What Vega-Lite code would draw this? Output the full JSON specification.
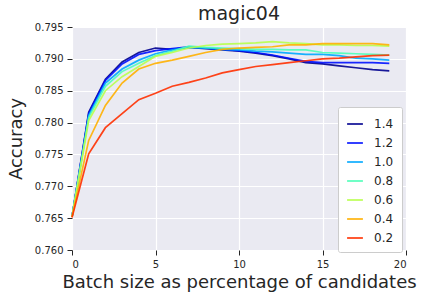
{
  "$schema": "https://vega.github.io/schema/vega-lite/v6.json",
  "autosize": {"type": "none"},
  "padding": {"left": 72, "top": 27, "right": 17, "bottom": 50},
  "width": 334,
  "height": 223,
  "background": "white",
  "title": {"text": "magic04", "fontSize": 19, "font": "DejaVu Sans", "fontWeight": "normal", "color": "#262626", "offset": 1, "dy": 3},
  "config": {
    "view": {"fill": "#EAEAF2", "stroke": null},
    "font": "DejaVu Sans",
    "axis": {
      "domain": false,
      "grid": true,
      "gridColor": "white",
      "gridWidth": 1.2,
      "ticks": true,
      "tickColor": "#262626",
      "tickSize": 5,
      "tickWidth": 1,
      "labelColor": "#262626",
      "labelFontSize": 10,
      "labelFont": "DejaVu Sans",
      "titleFont": "DejaVu Sans",
      "titleFontWeight": "normal",
      "titleColor": "#262626",
      "titleFontSize": 18
    }
  },
  "data": {"values": [
    {"x":0,"w":"1.4","y":0.7652},{"x":1,"w":"1.4","y":0.7816},{"x":2,"w":"1.4","y":0.7868},{"x":3,"w":"1.4","y":0.7895},{"x":4,"w":"1.4","y":0.7910},{"x":5,"w":"1.4","y":0.7917},{"x":6,"w":"1.4","y":0.7915},{"x":7,"w":"1.4","y":0.7918},{"x":8,"w":"1.4","y":0.7916},{"x":9,"w":"1.4","y":0.7914},{"x":10,"w":"1.4","y":0.7912},{"x":11,"w":"1.4","y":0.7909},{"x":12,"w":"1.4","y":0.7905},{"x":13,"w":"1.4","y":0.7900},{"x":14,"w":"1.4","y":0.7894},{"x":15,"w":"1.4","y":0.7892},{"x":16,"w":"1.4","y":0.7889},{"x":17,"w":"1.4","y":0.7886},{"x":18,"w":"1.4","y":0.7883},{"x":19,"w":"1.4","y":0.7881},
    {"x":0,"w":"1.2","y":0.7652},{"x":1,"w":"1.2","y":0.7814},{"x":2,"w":"1.2","y":0.7866},{"x":3,"w":"1.2","y":0.7892},{"x":4,"w":"1.2","y":0.7907},{"x":5,"w":"1.2","y":0.7913},{"x":6,"w":"1.2","y":0.7916},{"x":7,"w":"1.2","y":0.7919},{"x":8,"w":"1.2","y":0.7917},{"x":9,"w":"1.2","y":0.7915},{"x":10,"w":"1.2","y":0.7913},{"x":11,"w":"1.2","y":0.7910},{"x":12,"w":"1.2","y":0.7906},{"x":13,"w":"1.2","y":0.7901},{"x":14,"w":"1.2","y":0.7896},{"x":15,"w":"1.2","y":0.7894},{"x":16,"w":"1.2","y":0.7894},{"x":17,"w":"1.2","y":0.7894},{"x":18,"w":"1.2","y":0.7894},{"x":19,"w":"1.2","y":0.7893},
    {"x":0,"w":"1.0","y":0.7652},{"x":1,"w":"1.0","y":0.7811},{"x":2,"w":"1.0","y":0.7862},{"x":3,"w":"1.0","y":0.7884},{"x":4,"w":"1.0","y":0.7898},{"x":5,"w":"1.0","y":0.7908},{"x":6,"w":"1.0","y":0.7914},{"x":7,"w":"1.0","y":0.7918},{"x":8,"w":"1.0","y":0.7917},{"x":9,"w":"1.0","y":0.7915},{"x":10,"w":"1.0","y":0.7914},{"x":11,"w":"1.0","y":0.7912},{"x":12,"w":"1.0","y":0.7911},{"x":13,"w":"1.0","y":0.7909},{"x":14,"w":"1.0","y":0.7907},{"x":15,"w":"1.0","y":0.7907},{"x":16,"w":"1.0","y":0.7905},{"x":17,"w":"1.0","y":0.7901},{"x":18,"w":"1.0","y":0.7900},{"x":19,"w":"1.0","y":0.7898},
    {"x":0,"w":"0.8","y":0.7652},{"x":1,"w":"0.8","y":0.7808},{"x":2,"w":"0.8","y":0.7857},{"x":3,"w":"0.8","y":0.7880},{"x":4,"w":"0.8","y":0.7893},{"x":5,"w":"0.8","y":0.7905},{"x":6,"w":"0.8","y":0.7912},{"x":7,"w":"0.8","y":0.7920},{"x":8,"w":"0.8","y":0.7918},{"x":9,"w":"0.8","y":0.7917},{"x":10,"w":"0.8","y":0.7916},{"x":11,"w":"0.8","y":0.7915},{"x":12,"w":"0.8","y":0.7915},{"x":13,"w":"0.8","y":0.7914},{"x":14,"w":"0.8","y":0.7914},{"x":15,"w":"0.8","y":0.7910},{"x":16,"w":"0.8","y":0.7909},{"x":17,"w":"0.8","y":0.7908},{"x":18,"w":"0.8","y":0.7907},{"x":19,"w":"0.8","y":0.7906},
    {"x":0,"w":"0.6","y":0.7652},{"x":1,"w":"0.6","y":0.7803},{"x":2,"w":"0.6","y":0.7850},{"x":3,"w":"0.6","y":0.7872},{"x":4,"w":"0.6","y":0.7888},{"x":5,"w":"0.6","y":0.7904},{"x":6,"w":"0.6","y":0.7910},{"x":7,"w":"0.6","y":0.7917},{"x":8,"w":"0.6","y":0.7921},{"x":9,"w":"0.6","y":0.7923},{"x":10,"w":"0.6","y":0.7924},{"x":11,"w":"0.6","y":0.7925},{"x":12,"w":"0.6","y":0.7927},{"x":13,"w":"0.6","y":0.7925},{"x":14,"w":"0.6","y":0.7924},{"x":15,"w":"0.6","y":0.7922},{"x":16,"w":"0.6","y":0.7922},{"x":17,"w":"0.6","y":0.7921},{"x":18,"w":"0.6","y":0.7921},{"x":19,"w":"0.6","y":0.7920},
    {"x":0,"w":"0.4","y":0.7652},{"x":1,"w":"0.4","y":0.7772},{"x":2,"w":"0.4","y":0.7827},{"x":3,"w":"0.4","y":0.7862},{"x":4,"w":"0.4","y":0.7884},{"x":5,"w":"0.4","y":0.7893},{"x":6,"w":"0.4","y":0.7898},{"x":7,"w":"0.4","y":0.7904},{"x":8,"w":"0.4","y":0.7910},{"x":9,"w":"0.4","y":0.7915},{"x":10,"w":"0.4","y":0.7917},{"x":11,"w":"0.4","y":0.7918},{"x":12,"w":"0.4","y":0.7919},{"x":13,"w":"0.4","y":0.7922},{"x":14,"w":"0.4","y":0.7922},{"x":15,"w":"0.4","y":0.7924},{"x":16,"w":"0.4","y":0.7924},{"x":17,"w":"0.4","y":0.7924},{"x":18,"w":"0.4","y":0.7924},{"x":19,"w":"0.4","y":0.7922},
    {"x":0,"w":"0.2","y":0.7651},{"x":1,"w":"0.2","y":0.7751},{"x":2,"w":"0.2","y":0.7792},{"x":3,"w":"0.2","y":0.7814},{"x":4,"w":"0.2","y":0.7836},{"x":5,"w":"0.2","y":0.7846},{"x":6,"w":"0.2","y":0.7857},{"x":7,"w":"0.2","y":0.7863},{"x":8,"w":"0.2","y":0.7870},{"x":9,"w":"0.2","y":0.7878},{"x":10,"w":"0.2","y":0.7883},{"x":11,"w":"0.2","y":0.7888},{"x":12,"w":"0.2","y":0.7891},{"x":13,"w":"0.2","y":0.7894},{"x":14,"w":"0.2","y":0.7897},{"x":15,"w":"0.2","y":0.7900},{"x":16,"w":"0.2","y":0.7901},{"x":17,"w":"0.2","y":0.7903},{"x":18,"w":"0.2","y":0.7905},{"x":19,"w":"0.2","y":0.7906}
  ]},
  "mark": {"type": "line", "strokeWidth": 1.7, "opacity": 0.9},
  "encoding": {
    "x": {"field": "x", "type": "quantitative", "scale": {"domain": [0, 20], "nice": false}, "axis": {"values": [0, 5, 10, 15, 20], "format": "d", "title": "Batch size as percentage of candidates", "labelPadding": 4, "titlePadding": 4}},
    "y": {"field": "y", "type": "quantitative", "scale": {"domain": [0.76, 0.795], "nice": false, "zero": false}, "axis": {"values": [0.76, 0.765, 0.77, 0.775, 0.78, 0.785, 0.79, 0.795], "format": ".3f", "title": "Accuracy", "labelPadding": 4, "titlePadding": 9}},
    "color": {"field": "w", "type": "nominal", "sort": ["1.4", "1.2", "1.0", "0.8", "0.6", "0.4", "0.2"],
      "scale": {"domain": ["1.4", "1.2", "1.0", "0.8", "0.6", "0.4", "0.2"], "range": ["#00008f", "#0010ff", "#00a8ff", "#4dffb8", "#b8ff4d", "#ffb000", "#ff3000"]},
      "legend": {"title": null, "orient": "none", "legendX": 266, "legendY": 80, "fillColor": "white", "strokeColor": "#cccccc", "padding": 8, "cornerRadius": 2, "symbolType": "stroke", "symbolStrokeWidth": 2, "symbolSize": 250, "labelFontSize": 12, "labelColor": "#262626", "labelFont": "DejaVu Sans", "rowPadding": 4, "labelOffset": 10, "symbolOpacity": 0.8}
    }
  }
}
